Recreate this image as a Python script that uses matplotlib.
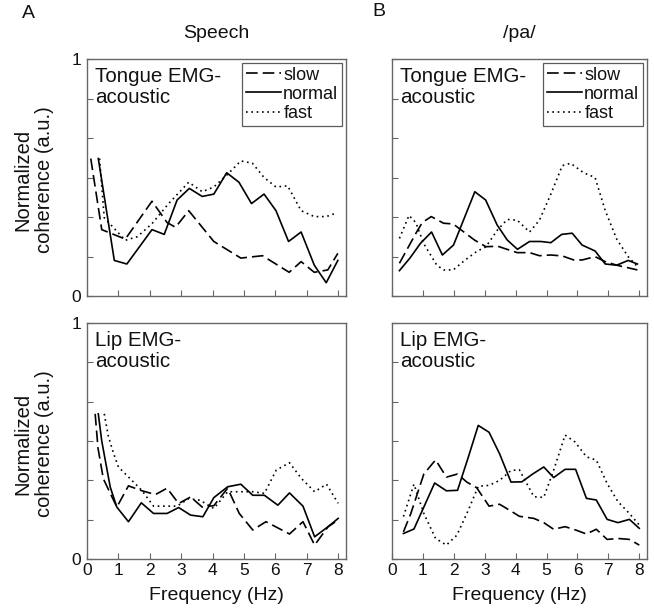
import matplotlib
matplotlib.use('Agg')
import matplotlib.pyplot as plt

plt.rcParams['font.family'] = ['Liberation Sans', 'DejaVu Sans']

# ---------------- data ----------------
# Speech, Tongue EMG-acoustic
sp_tg_slow_x = [0.12, 0.47, 1.22, 2.07, 2.55, 2.82, 3.24, 4.04, 4.9, 5.59, 6.44, 6.82, 7.24, 7.67, 7.99]
sp_tg_slow_y = [0.58, 0.28, 0.24, 0.40, 0.31, 0.29, 0.36, 0.23, 0.16, 0.17, 0.10, 0.145, 0.10, 0.11, 0.18]
sp_tg_norm_x = [0.36, 0.87, 1.27, 2.07, 2.46, 2.87, 3.26, 3.67, 4.04, 4.45, 4.84, 5.24, 5.64, 6.02, 6.42, 6.82, 7.24, 7.62, 7.99]
sp_tg_norm_y = [0.58, 0.15, 0.135, 0.28, 0.26, 0.405, 0.454, 0.42, 0.43, 0.52, 0.48, 0.39, 0.43, 0.36, 0.23, 0.27, 0.13, 0.056, 0.15]
sp_tg_fast_x = [0.40, 0.55, 1.22, 1.6, 2.07, 2.6, 3.24, 3.67, 4.04, 4.45, 4.9, 5.27, 5.64, 6.02, 6.39, 6.82, 7.24, 7.62, 7.94]
sp_tg_fast_y = [0.58, 0.33, 0.235, 0.25, 0.305, 0.39, 0.48, 0.44, 0.46, 0.51, 0.57, 0.56, 0.50, 0.46, 0.465, 0.36, 0.335, 0.335, 0.35]

# /pa/, Tongue EMG-acoustic
pa_tg_slow_x = [0.24, 0.77, 0.98, 1.27, 1.67, 1.98, 2.67, 3.04, 3.42, 4.05, 4.45, 4.77, 5.14, 5.51, 5.88, 6.15, 6.57, 6.9, 7.27, 7.94]
pa_tg_slow_y = [0.138, 0.264, 0.31, 0.335, 0.307, 0.304, 0.236, 0.208, 0.21, 0.183, 0.183, 0.17, 0.173, 0.169, 0.152, 0.152, 0.166, 0.145, 0.13, 0.11]
pa_tg_norm_x = [0.24, 0.58, 0.92, 1.28, 1.63, 1.99, 2.68, 3.03, 3.4, 3.73, 4.06, 4.45, 4.82, 5.14, 5.49, 5.83, 6.15, 6.57, 6.9, 7.27, 7.64, 7.94]
pa_tg_norm_y = [0.107, 0.16, 0.222, 0.27, 0.173, 0.215, 0.44, 0.405, 0.30, 0.236, 0.197, 0.23, 0.23, 0.225, 0.26, 0.265, 0.215, 0.19, 0.135, 0.13, 0.15, 0.135]
pa_tg_fast_x = [0.24, 0.55, 0.77, 1.03, 1.45, 1.67, 1.98, 2.35, 2.73, 3.04, 3.42, 3.73, 4.05, 4.45, 4.77, 5.14, 5.51, 5.78, 6.2, 6.57, 6.9, 7.27, 7.64, 7.94]
pa_tg_fast_y = [0.243, 0.34, 0.31, 0.22, 0.13, 0.11, 0.11, 0.15, 0.187, 0.208, 0.28, 0.323, 0.32, 0.27, 0.32, 0.43, 0.55, 0.56, 0.52, 0.50, 0.36, 0.24, 0.166, 0.124]

# Speech, Lip EMG-acoustic
sp_lp_slow_x = [0.26, 0.35, 0.52, 0.95, 1.32, 1.73, 2.18, 2.55, 2.92, 3.3, 3.67, 4.04, 4.48, 4.85, 5.28, 5.7, 6.45, 6.88, 7.25, 7.68, 8.0]
sp_lp_slow_y = [0.615, 0.47, 0.34, 0.22, 0.31, 0.29, 0.273, 0.30, 0.235, 0.263, 0.22, 0.226, 0.30, 0.193, 0.123, 0.158, 0.106, 0.158, 0.059, 0.137, 0.165]
sp_lp_norm_x = [0.36, 0.47, 0.58, 0.74, 0.95, 1.32, 1.73, 2.12, 2.55, 2.92, 3.3, 3.69, 4.04, 4.48, 4.9, 5.28, 5.65, 6.08, 6.45, 6.88, 7.25, 7.68, 8.0]
sp_lp_norm_y = [0.615, 0.50, 0.42, 0.305, 0.22, 0.158, 0.238, 0.193, 0.193, 0.218, 0.186, 0.179, 0.26, 0.306, 0.317, 0.27, 0.27, 0.228, 0.28, 0.224, 0.094, 0.137, 0.172]
sp_lp_fast_x = [0.55, 0.68, 0.84, 1.0, 1.43, 1.75, 2.12, 2.5, 2.87, 3.24, 3.6, 4.04, 4.48, 4.9, 5.28, 5.65, 6.03, 6.45, 6.83, 7.25, 7.63, 8.0]
sp_lp_fast_y = [0.615, 0.52, 0.45, 0.39, 0.333, 0.29, 0.224, 0.224, 0.224, 0.256, 0.249, 0.214, 0.285, 0.285, 0.285, 0.278, 0.377, 0.408, 0.341, 0.285, 0.317, 0.236]

# /pa/, Lip EMG-acoustic
pa_lp_slow_x = [0.37, 0.61, 1.03, 1.41, 1.76, 2.12, 2.42, 2.74, 3.14, 3.48, 3.8, 4.12, 4.59, 4.91, 5.23, 5.6, 5.94, 6.29, 6.61, 6.96, 7.31, 7.68, 8.0]
pa_lp_slow_y = [0.115, 0.193, 0.36, 0.42, 0.347, 0.36, 0.326, 0.302, 0.224, 0.232, 0.207, 0.181, 0.172, 0.154, 0.126, 0.137, 0.123, 0.106, 0.126, 0.083, 0.087, 0.083, 0.059]
pa_lp_norm_x = [0.37, 0.71, 1.03, 1.38, 1.76, 2.12, 2.47, 2.79, 3.14, 3.48, 3.85, 4.2, 4.55, 4.91, 5.23, 5.6, 5.94, 6.29, 6.61, 6.96, 7.31, 7.68, 8.0]
pa_lp_norm_y = [0.108, 0.127, 0.22, 0.322, 0.289, 0.291, 0.432, 0.566, 0.537, 0.446, 0.326, 0.327, 0.36, 0.39, 0.345, 0.38, 0.38, 0.257, 0.25, 0.168, 0.154, 0.168, 0.13]
pa_lp_fast_x = [0.37, 0.71, 1.03, 1.41, 1.76, 2.1, 2.47, 2.79, 3.14, 3.48, 3.85, 4.12, 4.59, 4.91, 5.23, 5.6, 5.92, 6.29, 6.61, 6.96, 7.31, 7.68, 8.0]
pa_lp_fast_y = [0.18, 0.317, 0.193, 0.087, 0.059, 0.101, 0.207, 0.308, 0.312, 0.333, 0.375, 0.378, 0.264, 0.261, 0.376, 0.525, 0.496, 0.433, 0.419, 0.32, 0.243, 0.193, 0.144]

conditions = ['slow', 'normal', 'fast']
x_ticks = [0, 1, 2, 3, 4, 5, 6, 7, 8]
y_ticks = [0, 1/6, 2/6, 3/6, 4/6, 5/6, 1]
y_ticklabels = ['0', '', '', '', '', '', '1']
column_titles = ['Speech', '/pa/']
panel_letters = ['A', 'B']
panel_texts = ['Tongue EMG-\nacoustic', 'Lip EMG-\nacoustic']

panels = [
    [(sp_tg_slow_x, sp_tg_slow_y), (sp_tg_norm_x, sp_tg_norm_y), (sp_tg_fast_x, sp_tg_fast_y)],
    [(pa_tg_slow_x, pa_tg_slow_y), (pa_tg_norm_x, pa_tg_norm_y), (pa_tg_fast_x, pa_tg_fast_y)],
    [(sp_lp_slow_x, sp_lp_slow_y), (sp_lp_norm_x, sp_lp_norm_y), (sp_lp_fast_x, sp_lp_fast_y)],
    [(pa_lp_slow_x, pa_lp_slow_y), (pa_lp_norm_x, pa_lp_norm_y), (pa_lp_fast_x, pa_lp_fast_y)],
]

# ---------------- figure ----------------
W, H = 654, 614
fig = plt.figure(figsize=(W / 100, H / 100), dpi=100)

col_l = [(87, 259), (392, 255)]
row_tb = [(59, 296), (323, 559)]
styles = [dict(dashes=(7, 3)), dict(linestyle='-'), dict(dashes=(1, 2.2))]
spine_col = '#666666'
txt_col = '#111111'

for r in range(2):
    for c in range(2):
        l, w = col_l[c]
        t, b = row_tb[r]
        ax = fig.add_axes([l / W, (H - b) / H, w / W, (b - t) / H])
        for (xs, ys), st, name in zip(panels[r * 2 + c], styles, conditions):
            ax.plot(xs, ys, color='black', lw=1.2, label=name, **st)
        ax.set_xlim(0, 8.25)
        ax.set_ylim(0, 1)
        ax.set_xticks(x_ticks)
        ax.set_yticks(y_ticks)
        if c == 0:
            ax.set_yticklabels(y_ticklabels)
        else:
            ax.set_yticklabels([])
        if r == 1:
            ax.set_xticklabels([str(v) for v in x_ticks])
        else:
            ax.set_xticklabels([])
        ax.tick_params(direction='in', length=4, width=0.8, color=spine_col,
                       labelsize=12.5, labelcolor=txt_col, pad=3)
        ax.tick_params(axis='y', pad=4)
        for sp in ax.spines.values():
            sp.set_color(spine_col)
            sp.set_linewidth(1.0)
        ax.text(0.03, 0.965, panel_texts[r], transform=ax.transAxes, ha='left', va='top',
                fontsize=14.8, color=txt_col, linespacing=1.12)
        if r == 0:
            leg = ax.legend(loc='upper right', fontsize=13, frameon=True, fancybox=False,
                            edgecolor='#333333', borderaxespad=0.2, handlelength=1.9,
                            handletextpad=0.15, labelspacing=0.12, borderpad=0.22)
            leg.get_frame().set_linewidth(0.9)
            for tx in leg.get_texts():
                tx.set_color(txt_col)
            ax.set_title(column_titles[c], fontsize=14, color=txt_col, pad=15)
        else:
            ax.set_xlabel('Frequency (Hz)', fontsize=14, color=txt_col, labelpad=6)

# y labels
for yc in [180, 444]:
    fig.text(34 / W, 1 - yc / H, 'Normalized\ncoherence (a.u.)', rotation=90,
             ha='center', va='center', multialignment='center', fontsize=14.5,
             color=txt_col, linespacing=1.2)

fig.text(28 / W, 1 - 14 / H, panel_letters[0], ha='center', va='center', fontsize=14, color=txt_col)
fig.text(379 / W, 1 - 12 / H, panel_letters[1], ha='center', va='center', fontsize=14, color=txt_col)

fig.savefig('out.png', dpi=100)
